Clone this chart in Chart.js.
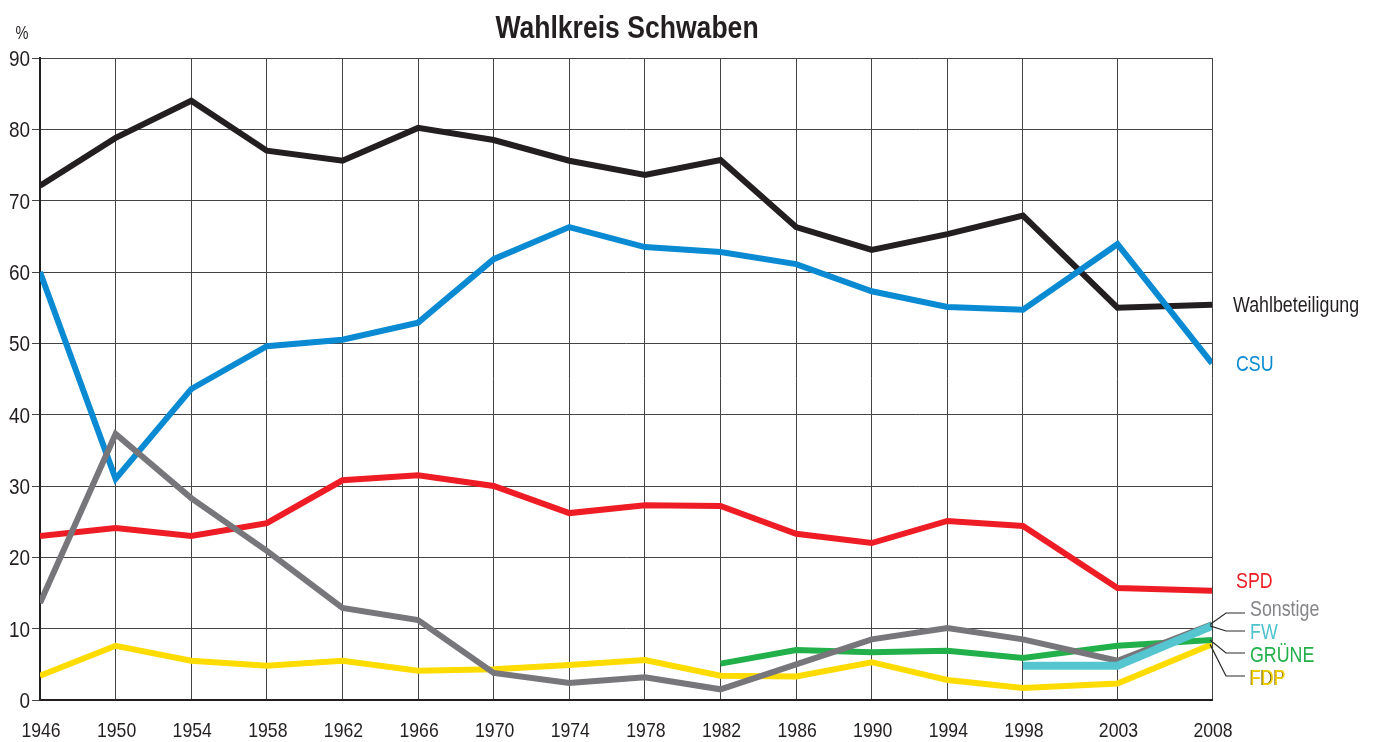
<!DOCTYPE html>
<html>
<head>
<meta charset="utf-8">
<script src="https://cdn.jsdelivr.net/npm/chart.js@4"></script>
<style>
  html, body { margin: 0; padding: 0; background: #fff; }
  #wrap { width: 1376px; height: 742px; }
</style>
</head>
<body>
<div id="wrap"><canvas id="chart" width="1376" height="742"></canvas></div>
<script>
const years = [1946, 1950, 1954, 1958, 1962, 1966, 1970, 1974, 1978, 1982, 1986, 1990, 1994, 1998, 2003, 2008];
const yTicks = [0, 10, 20, 30, 40, 50, 60, 70, 80, 90];

const wahlbeteiligung = [72.1, 78.8, 84.0, 77.0, 75.6, 80.2, 78.5, 75.6, 73.6, 75.7, 66.3, 63.1, 65.3, 67.9, 55.0, 55.4];
const csu = [60.0, 31.0, 43.6, 49.6, 50.5, 52.9, 61.8, 66.3, 63.5, 62.8, 61.1, 57.3, 55.1, 54.7, 63.9, 47.2];
const spd = [23.0, 24.1, 23.0, 24.8, 30.8, 31.5, 30.0, 26.2, 27.3, 27.2, 23.3, 22.0, 25.1, 24.4, 15.7, 15.3];
const sonstige = [13.6, 37.3, 28.3, 20.9, 12.9, 11.2, 3.8, 2.4, 3.2, 1.5, 5.0, 8.5, 10.1, 8.5, 5.5, 10.6];
const fw = [null, null, null, null, null, null, null, null, null, null, null, null, null, 4.8, 4.8, 10.4];
const gruene = [null, null, null, null, null, null, null, null, null, 5.1, 7.0, 6.7, 6.9, 5.9, 7.6, 8.4];
const fdp = [3.4, 7.6, 5.5, 4.8, 5.5, 4.1, 4.3, 4.9, 5.6, 3.4, 3.3, 5.3, 2.8, 1.7, 2.3, 7.8];

const FONT = '"Liberation Sans", Arial, sans-serif';
const NARROW = 0.81; // horizontal squeeze to mimic a condensed face
const INK = '#231f20';

function pts(vals) {
  return years.map((yr, i) => ({ x: yr, y: vals[i] }));
}

function line(label, vals, color, width, order) {
  return {
    label: label,
    data: pts(vals),
    borderColor: color,
    backgroundColor: color,
    borderWidth: width,
    pointRadius: 0,
    tension: 0,
    borderJoinStyle: 'miter',
    borderCapStyle: 'butt',
    spanGaps: false,
    order: order
  };
}

function narrowText(ctx, s, x, y, align, sx) {
  ctx.save();
  ctx.translate(x, y);
  ctx.scale(sx || NARROW, 1);
  ctx.textAlign = align;
  ctx.fillText(s, 0, 0);
  ctx.restore();
}

// right-hand labels
const endLabels = [
  { text: 'Wahlbeteiligung', color: INK, vals: wahlbeteiligung, x: 1233, y: 312 },
  { text: 'CSU', color: '#0a8ad2', vals: csu, x: 1236, y: 371 },
  { text: 'SPD', color: '#ee1d25', vals: spd, x: 1236, y: 588 },
  { text: 'Sonstige', color: '#85858a', vals: sonstige, x: 1250, y: 616, elbow: 613 },
  { text: 'FW', color: '#4fc3d0', vals: fw, x: 1250, y: 639, elbow: 631 },
  { text: 'GRÜNE', color: '#22b04b', vals: gruene, x: 1250, y: 662, elbow: 653 },
  { text: 'FDP', color: '#f7d300', vals: fdp, x: 1250, y: 685, elbow: 676, shadow: true }
];

const decor = {
  id: 'decor',
  afterDraw(chart) {
    const ctx = chart.ctx;
    const xs = chart.scales.x, ys = chart.scales.y;
    ctx.save();
    ctx.textBaseline = 'alphabetic';
    // title
    ctx.fillStyle = INK;
    ctx.font = 'bold 32px ' + FONT;
    narrowText(ctx, 'Wahlkreis Schwaben', 627, 38, 'center', 0.83);
    // percent sign
    ctx.font = '18px ' + FONT;
    narrowText(ctx, '%', 22, 39, 'center');
    // y tick labels
    ctx.font = '22px ' + FONT;
    yTicks.forEach(v => {
      narrowText(ctx, String(v), 30, ys.getPixelForValue(v) + 8, 'right', 0.86);
    });
    // x tick labels
    ctx.font = '21px ' + FONT;
    years.forEach(yr => {
      narrowText(ctx, String(yr), xs.getPixelForValue(yr) + 1, 737, 'center', 0.84);
    });
    // end labels
    ctx.font = '22px ' + FONT;
    endLabels.forEach(l => {
      if (l.elbow) {
        const px = xs.getPixelForValue(2008) - 2;
        const py = ys.getPixelForValue(l.vals[l.vals.length - 1]);
        ctx.strokeStyle = '#2a2a2a';
        ctx.lineWidth = 1.2;
        ctx.beginPath();
        ctx.moveTo(px, py);
        ctx.lineTo(1226, l.elbow);
        ctx.lineTo(1245, l.elbow);
        ctx.stroke();
      }
      if (l.shadow) {
        ctx.fillStyle = '#6b5a10';
        narrowText(ctx, l.text, l.x - 0.8, l.y + 0.3, 'left');
      }
      ctx.fillStyle = l.color;
      narrowText(ctx, l.text, l.x, l.y, 'left');
    });
    ctx.restore();
  }
};

new Chart(document.getElementById('chart'), {
  type: 'line',
  data: {
    datasets: [
      line('FW', fw, '#55c5d0', 8, 0),
      line('Sonstige', sonstige, '#77777b', 6, 1),
      line('CSU', csu, '#0a8ad2', 6, 2),
      line('Wahlbeteiligung', wahlbeteiligung, '#231f20', 6, 3),
      line('SPD', spd, '#ee1d25', 6, 4),
      line('GRÜNE', gruene, '#22b04b', 6, 5),
      line('FDP', fdp, '#ffdc00', 6, 6)
    ]
  },
  options: {
    responsive: false,
    animation: false,
    layout: { padding: { top: 58, right: 164, left: 0, bottom: 0 } },
    plugins: {
      legend: { display: false },
      tooltip: { enabled: false },
      title: { display: false }
    },
    scales: {
      x: {
        type: 'linear',
        min: 1946,
        max: 2008,
        afterBuildTicks: s => { s.ticks = years.map(v => ({ value: v })); },
        afterFit: s => { s.height = 42; },
        grid: { color: '#444', lineWidth: 1, drawTicks: false },
        border: { color: INK, width: 2 },
        ticks: { display: false }
      },
      y: {
        min: 0,
        max: 90,
        afterBuildTicks: s => { s.ticks = yTicks.map(v => ({ value: v })); },
        afterFit: s => { s.width = 40; },
        grid: { color: '#444', lineWidth: 1, tickLength: 8 },
        border: { color: INK, width: 2 },
        ticks: { display: false }
      }
    }
  },
  plugins: [decor]
});
</script>
</body>
</html>
